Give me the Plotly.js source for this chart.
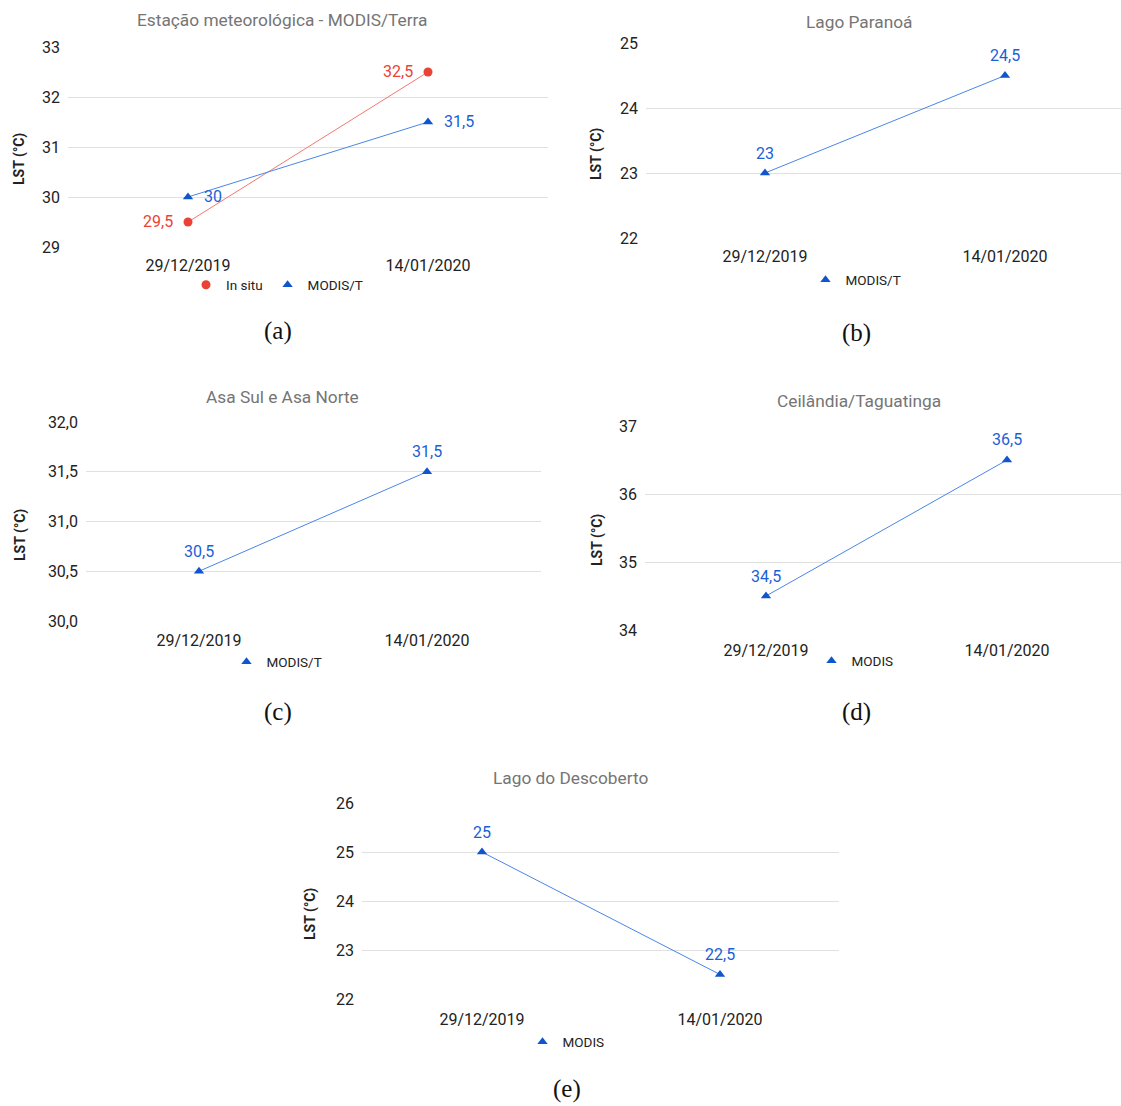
<!DOCTYPE html>
<html>
<head>
<meta charset="utf-8">
<script src="https://cdn.plot.ly/plotly-3.0.1.min.js"></script>
<style>html,body{margin:0;padding:0;background:#fff;}#chart{width:1121px;height:1106px;}</style>
</head>
<body>
<div id="chart"></div>
<script>
// ---------------- data ----------------
const dates = ['29/12/2019', '14/01/2020'];
const estacaoInSitu = [29.5, 32.5];
const estacaoModis = [30, 31.5];
const paranoaModis = [23, 24.5];
const asaModis = [30.5, 31.5];
const ceilandiaModis = [34.5, 36.5];
const descobertoModis = [25, 22.5];

const panelTitles = ['Estação meteorológica - MODIS/Terra', 'Lago Paranoá', 'Asa Sul e Asa Norte', 'Ceilândia/Taguatinga', 'Lago do Descoberto'];
const captions = ['(a)', '(b)', '(c)', '(d)', '(e)'];
const yTitle = 'LST (°C)';
const seriesNames = ['In situ', 'MODIS/T', 'MODIS/T', 'MODIS/T', 'MODIS', 'MODIS'];

// ---------------- styling / layout ----------------
const W = 1121, H = 1106;
const px = v => v / W;
const py = v => 1 - v / H;

const RED = '#ea4335', RED_LINE = '#f07a70';
const BLUE = '#1155cc', BLUE_LINE = '#4a86e8', BLUE_TXT = '#1a5fd6';

// pixel geometry of each panel
const panels = [
  {L: 68, R: 548, T: 47, B: 247, c0: 188, s: 240, yr: [29, 33], dtick: 1, fmt: '', xso: 7,
   title: [282, 20], ytitle: [19, 159], cap: [278, 331], leg: [277, 285]},
  {L: 646, R: 1121, T: 43, B: 238, c0: 765, s: 240, yr: [22, 25], dtick: 1, fmt: '', xso: 7,
   title: [859, 22], ytitle: [597, 154], cap: [856, 333], leg: [856, 280]},
  {L: 86, R: 541, T: 422, B: 621, c0: 199, s: 228, yr: [30, 32], dtick: 0.5, fmt: '.1f', xso: 8,
   title: [282, 397], ytitle: [20, 535], cap: [278, 712], leg: [277, 662]},
  {L: 645, R: 1121, T: 426, B: 630, c0: 766, s: 241, yr: [34, 37], dtick: 1, fmt: '', xso: 9,
   title: [859, 401], ytitle: [597, 540], cap: [856, 712], leg: [855, 661]},
  {L: 362, R: 839, T: 803, B: 999, c0: 482, s: 238, yr: [22, 26], dtick: 1, fmt: '', xso: 9,
   title: [570, 778], ytitle: [310, 914], cap: [567, 1089], leg: [566, 1042]}
];

// series: [panelIndex, values, name, symbol, markerColor, lineColor, textColor, labelPos]
const series = [
  [0, estacaoInSitu, seriesNames[0], 'circle', RED, RED_LINE, RED, 'left'],
  [0, estacaoModis, seriesNames[1], 'triangle-up', BLUE, BLUE_LINE, BLUE_TXT, 'right'],
  [1, paranoaModis, seriesNames[2], 'triangle-up', BLUE, BLUE_LINE, BLUE_TXT, 'top'],
  [2, asaModis, seriesNames[3], 'triangle-up', BLUE, BLUE_LINE, BLUE_TXT, 'top'],
  [3, ceilandiaModis, seriesNames[4], 'triangle-up', BLUE, BLUE_LINE, BLUE_TXT, 'top'],
  [4, descobertoModis, seriesNames[5], 'triangle-up', BLUE, BLUE_LINE, BLUE_TXT, 'top']
];

const fmtNum = v => String(v).replace('.', ',');

const layout = {
  width: W, height: H,
  margin: {l: 0, r: 0, t: 0, b: 0},
  paper_bgcolor: '#ffffff', plot_bgcolor: '#ffffff',
  font: {family: 'Roboto, Arial, sans-serif', color: '#222222', size: 16},
  separators: ',.',
  showlegend: true,
  annotations: [],
  hovermode: false
};

panels.forEach((p, i) => {
  const n = i + 1;
  const sfx = n > 1 ? String(n) : '';
  layout['xaxis' + sfx] = {
    domain: [px(p.L), px(p.R)],
    range: [(p.L - p.c0) / p.s, (p.R - p.c0) / p.s],
    type: 'category',
    anchor: 'y' + sfx,
    showgrid: false, zeroline: false, showline: false, ticks: '',
    tickfont: {size: 16, color: '#222222'},
    ticklabelstandoff: p.xso,
    fixedrange: true
  };
  layout['yaxis' + sfx] = {
    domain: [py(p.B), py(p.T)],
    range: p.yr,
    dtick: p.dtick, tick0: p.yr[0],
    tickformat: p.fmt,
    anchor: 'x' + sfx,
    showgrid: true, gridcolor: '#e0e0e0', gridwidth: 1,
    zeroline: false, showline: false, ticks: '',
    tickfont: {size: 16, color: '#222222'},
    ticklabelstandoff: 7,
    fixedrange: true
  };
  layout['legend' + sfx] = {
    x: px(p.leg[0]), y: py(p.leg[1]), xanchor: 'center', yanchor: 'middle',
    xref: 'paper', yref: 'paper',
    orientation: 'h', bgcolor: 'rgba(0,0,0,0)', borderwidth: 0,
    font: {size: 13.5, color: '#222222'},
    itemwidth: 30, tracegroupgap: 0, itemclick: false, itemdoubleclick: false
  };
  // panel title
  layout.annotations.push({
    text: panelTitles[i], xref: 'paper', yref: 'paper',
    x: px(p.title[0]), y: py(p.title[1]), xanchor: 'center', yanchor: 'middle',
    showarrow: false, font: {size: 17.3, color: '#757575'}
  });
  // y axis title
  layout.annotations.push({
    text: '<b>' + yTitle + '</b>', xref: 'paper', yref: 'paper',
    x: px(p.ytitle[0]), y: py(p.ytitle[1]), xanchor: 'center', yanchor: 'middle',
    textangle: -90, showarrow: false, font: {size: 14, color: '#222222'}
  });
  // caption
  layout.annotations.push({
    text: captions[i], xref: 'paper', yref: 'paper',
    x: px(p.cap[0]), y: py(p.cap[1]), xanchor: 'center', yanchor: 'middle',
    showarrow: false, borderpad: 0,
    font: {size: 25, color: '#111111', family: '"Liberation Serif", "DejaVu Serif", serif'}
  });
});

const traces = [];
series.forEach(s => {
  const [pi, vals, name, symbol, mc, lc, tc, pos] = s;
  const n = pi + 1;
  const sfx = n > 1 ? String(n) : '';
  traces.push({
    x: dates, y: vals, mode: 'lines', type: 'scatter',
    xaxis: 'x' + sfx, yaxis: 'y' + sfx,
    line: {color: lc, width: 1}, showlegend: false, hoverinfo: 'skip'
  });
  traces.push({
    x: dates, y: vals, mode: 'markers', type: 'scatter', name: name,
    xaxis: 'x' + sfx, yaxis: 'y' + sfx, legend: 'legend' + sfx,
    marker: {symbol: symbol, size: 9, color: mc, line: {width: 0}},
    hoverinfo: 'skip'
  });
  vals.forEach((v, k) => {
    const a = {
      text: fmtNum(v), xref: 'x' + sfx, yref: 'y' + sfx, x: dates[k], y: v,
      showarrow: false, font: {size: 16, color: tc}, yanchor: 'middle'
    };
    if (pos === 'left') { a.xanchor = 'right'; a.xshift = -13; }
    else if (pos === 'right') { a.xanchor = 'left'; a.xshift = 14; }
    else { a.xanchor = 'center'; a.yshift = 20; }
    layout.annotations.push(a);
  });
});

Plotly.newPlot('chart', traces, layout, {staticPlot: true, displayModeBar: false});
</script>
</body>
</html>
